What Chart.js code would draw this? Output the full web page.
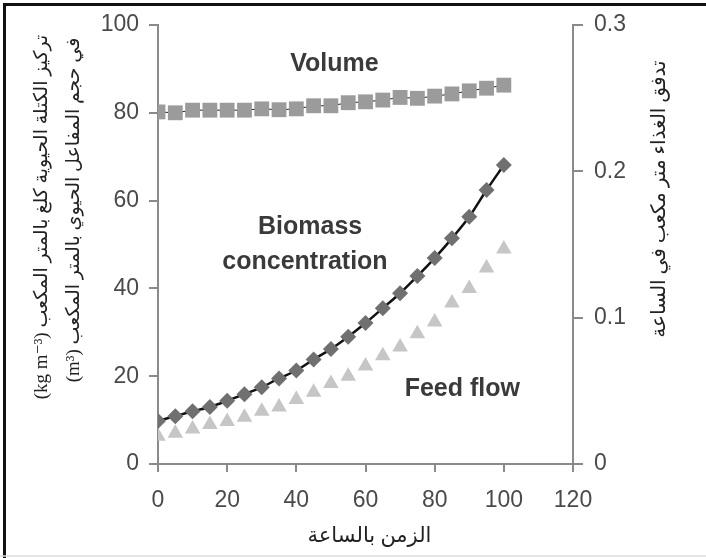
<!DOCTYPE html>
<html>
<head>
<meta charset="utf-8">
<script src="https://cdn.jsdelivr.net/npm/chart.js@4/dist/chart.umd.min.js"></script>
<style>
  html, body { margin: 0; padding: 0; background: #fff; }
  #wrap { position: relative; width: 706px; height: 558px; }
</style>
</head>
<body>
<div id="wrap"><canvas id="chart" width="706" height="558"></canvas></div>
<script>
// time in hours
const hours = [0, 5, 10, 15, 20, 25, 30, 35, 40, 45, 50, 55, 60, 65, 70, 75, 80, 85, 90, 95, 100];

// reactor volume (m3), left axis
const volume = [80.2, 80.0, 80.6, 80.6, 80.6, 80.6, 80.9, 80.7, 80.9, 81.6, 81.6, 82.3, 82.5, 82.9, 83.5, 83.3, 83.8, 84.3, 85.0, 85.6, 86.3];

// biomass concentration (kg m-3), left axis
const biomass = [9.8, 10.9, 12.0, 13.0, 14.4, 15.9, 17.5, 19.5, 21.3, 23.8, 26.2, 29.0, 32.1, 35.5, 38.9, 42.8, 46.9, 51.4, 56.3, 62.4, 68.1];

// feed flow (m3 per hour), right axis
const feedFlow = [0.019, 0.021, 0.024, 0.027, 0.029, 0.032, 0.036, 0.039, 0.044, 0.049, 0.055, 0.060, 0.067, 0.074, 0.080, 0.089, 0.097, 0.110, 0.120, 0.134, 0.147];

const xTicks = [0, 20, 40, 60, 80, 100, 120];
const leftTicks = [0, 20, 40, 60, 80, 100];
const rightTicks = [0, 0.1, 0.2, 0.3];

const xTitle = "الزمن بالساعة";
const leftTitle = [
  "تركيز الكتلة الحيوية كلغ بالمتر المكعب (kg m⁻³)",
  "في حجم المفاعل الحيوي بالمتر المكعب (m³)"
];
const rightTitle = "تدفق الغذاء متر مكعب في الساعة";

const labels = [
  { text: "Volume", x: 51, y: 91 },
  { text: "Biomass", x: 44, y: 54 },
  { text: "concentration", x: 42.5, y: 46 },
  { text: "Feed flow", x: 88, y: 17 }
];

const toPts = (ys) => hours.map((h, i) => ({ x: h, y: ys[i] }));

const axisGrey = "#8a8a8a";
const tickText = "#4a4a4a";
const tickFont = { family: "Liberation Sans, Arial, sans-serif", size: 23 };

const decor = {
  id: "decor",
  afterDraw(chart) {
    const ctx = chart.ctx;
    const { x, y } = chart.scales;
    ctx.save();

    // annotations inside the plot
    ctx.fillStyle = "#3a3a3a";
    ctx.font = "bold 25px Liberation Sans, Arial, sans-serif";
    ctx.textAlign = "center";
    ctx.textBaseline = "middle";
    labels.forEach((l) => {
      ctx.fillText(l.text, x.getPixelForValue(l.x), y.getPixelForValue(l.y));
    });

    // axis titles
    ctx.fillStyle = "#222";
    ctx.direction = "rtl";
    ctx.font = "21px Liberation Serif, DejaVu Sans, serif";
    ctx.fillText(xTitle, (x.left + x.right) / 2 + 4, 536);

    ctx.font = "19px Liberation Serif, DejaVu Sans, serif";
    ctx.save();
    ctx.translate(42, 217);
    ctx.rotate(-Math.PI / 2);
    ctx.fillText(leftTitle[0], 0, 0);
    ctx.restore();

    ctx.save();
    ctx.translate(74, 210);
    ctx.rotate(-Math.PI / 2);
    ctx.fillText(leftTitle[1], 0, 0);
    ctx.restore();

    ctx.font = "20px Liberation Serif, DejaVu Sans, serif";
    ctx.save();
    ctx.translate(660, 199);
    ctx.rotate(-Math.PI / 2);
    ctx.fillText(rightTitle, 0, 0);
    ctx.restore();

    // picture frame
    ctx.strokeStyle = "#111";
    ctx.lineWidth = 3;
    ctx.beginPath();
    ctx.moveTo(4.5, 558);
    ctx.lineTo(4.5, 4.5);
    ctx.lineTo(706, 4.5);
    ctx.stroke();
    ctx.strokeStyle = "#ddd";
    ctx.lineWidth = 1.5;
    ctx.beginPath();
    ctx.moveTo(0, 556);
    ctx.lineTo(706, 556);
    ctx.stroke();

    ctx.restore();
  }
};

new Chart(document.getElementById("chart"), {
  type: "line",
  data: {
    datasets: [
      {
        label: "Volume",
        data: toPts(volume),
        yAxisID: "y",
        borderColor: "#222",
        borderWidth: 1,
        pointStyle: "rect",
        pointRadius: 10.5,
        pointBackgroundColor: "#9b9b9b",
        pointBorderColor: "#9b9b9b",
        pointBorderWidth: 0,
        order: 2
      },
      {
        label: "Biomass concentration",
        data: toPts(biomass),
        yAxisID: "y",
        borderColor: "#111",
        borderWidth: 2.5,
        tension: 0.3,
        pointStyle: "rectRot",
        pointRadius: 8,
        pointBackgroundColor: "#707070",
        pointBorderColor: "#707070",
        pointBorderWidth: 0,
        order: 1
      },
      {
        label: "Feed flow",
        data: toPts(feedFlow),
        yAxisID: "y1",
        showLine: false,
        pointStyle: "triangle",
        pointRadius: 9,
        pointBackgroundColor: "#c6c6c6",
        pointBorderColor: "#c6c6c6",
        pointBorderWidth: 0,
        order: 3
      }
    ]
  },
  options: {
    responsive: false,
    animation: false,
    events: [],
    layout: { padding: { top: 25, left: 0, right: 0, bottom: 0 } },
    plugins: { legend: { display: false }, tooltip: { enabled: false } },
    scales: {
      x: {
        type: "linear",
        min: 0,
        max: 120,
        afterBuildTicks: (s) => { s.ticks = xTicks.map((v) => ({ value: v })); },
        afterFit: (s) => { s.height = 94; },
        ticks: { font: tickFont, color: tickText, padding: 15, maxRotation: 0 },
        grid: { drawOnChartArea: false, tickLength: 8, color: axisGrey, lineWidth: 2 },
        border: { color: axisGrey, width: 2 }
      },
      y: {
        position: "left",
        min: 0,
        max: 100,
        afterBuildTicks: (s) => { s.ticks = leftTicks.map((v) => ({ value: v })); },
        afterFit: (s) => { s.width = 158; },
        ticks: { font: tickFont, color: tickText, padding: 10 },
        grid: { drawOnChartArea: false, tickLength: 9, color: axisGrey, lineWidth: 2 },
        border: { color: axisGrey, width: 2 }
      },
      y1: {
        position: "right",
        min: 0,
        max: 0.3,
        afterBuildTicks: (s) => { s.ticks = rightTicks.map((v) => ({ value: v })); },
        afterFit: (s) => { s.width = 133; },
        ticks: {
          font: tickFont,
          color: tickText,
          padding: 11,
          callback: (v) => String(+v.toFixed(1))
        },
        grid: { drawOnChartArea: false, tickLength: 10, color: axisGrey, lineWidth: 2 },
        border: { color: axisGrey, width: 2 }
      }
    }
  },
  plugins: [decor]
});
</script>
</body>
</html>
